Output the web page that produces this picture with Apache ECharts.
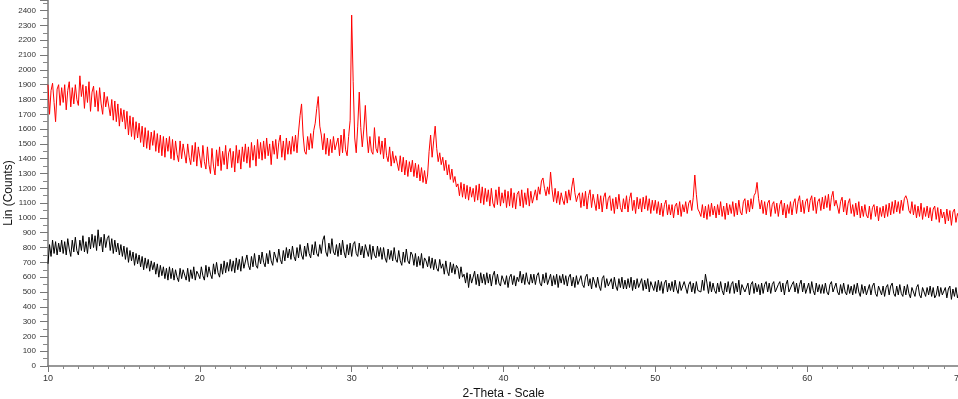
<!DOCTYPE html>
<html>
<head>
<meta charset="utf-8">
<script src="https://cdn.jsdelivr.net/npm/echarts@6/dist/echarts.min.js"></script>
<style>
  html, body { margin: 0; padding: 0; background: #fff; }
  #chart { width: 958px; height: 399px; }
</style>
</head>
<body>
<div id="chart"></div>
<script>
// 2-theta sampling: 10.0 .. 70.0 every 0.1 deg
const thetaStart = 10;
const thetaStep = 0.1;
const xTicks = [10, 20, 30, 40, 50, 60, 70];

// upper pattern (red), one row per degree
const redCounts = [
  1900,1700,1860,1910,1780,1650,1870,1900,1760,1880, // 10
  1780,1900,1730,1860,1920,1750,1880,1770,1900,1800, // 11
  1760,1960,1820,1900,1740,1890,1780,1920,1720,1850, // 12
  1890,1750,1860,1720,1880,1770,1700,1850,1750,1820, // 13
  1830,1690,1800,1660,1790,1650,1770,1620,1740,1650, // 14
  1730,1600,1720,1560,1690,1550,1680,1530,1650,1540, // 15
  1640,1510,1620,1480,1610,1470,1590,1460,1580,1490, // 16
  1590,1450,1570,1440,1560,1420,1550,1410,1540,1450, // 17
  1550,1400,1530,1390,1520,1430,1380,1520,1400,1500, // 18
  1510,1370,1500,1410,1360,1490,1380,1510,1350,1480, // 19
  1470,1340,1490,1380,1330,1480,1360,1300,1470,1350, // 20
  1290,1460,1350,1480,1320,1450,1360,1490,1330,1440, // 21
  1470,1340,1450,1310,1490,1370,1460,1330,1480,1380, // 22
  1500,1370,1480,1340,1510,1390,1490,1350,1530,1400, // 23
  1510,1390,1520,1400,1540,1420,1500,1360,1520,1430, // 24
  1530,1400,1510,1560,1410,1520,1390,1540,1430,1520, // 25
  1430,1550,1450,1560,1440,1580,1690,1770,1560,1450, // 26
  1430,1550,1460,1570,1470,1590,1640,1740,1820,1620, // 27
  1560,1460,1570,1430,1540,1420,1530,1440,1550,1460, // 28
  1450,1540,1420,1560,1440,1600,1460,1420,1550,1660, // 29
  2370,1920,1540,1440,1620,1850,1610,1480,1600,1760, // 30
  1560,1440,1550,1450,1430,1610,1470,1440,1550,1430, // 31
  1520,1400,1540,1420,1380,1480,1350,1450,1370,1420, // 32
  1430,1320,1420,1310,1410,1290,1390,1280,1380,1310, // 33
  1390,1280,1370,1270,1360,1250,1340,1240,1320,1230, // 34
  1290,1450,1560,1410,1520,1620,1470,1380,1440,1360, // 35
  1410,1320,1390,1290,1360,1260,1330,1240,1280,1210, // 36
  1230,1150,1240,1140,1230,1130,1220,1120,1210,1140, // 37
  1200,1110,1220,1120,1230,1100,1210,1090,1200,1110, // 38
  1190,1080,1200,1100,1070,1190,1090,1210,1080,1170, // 39
  1100,1190,1070,1180,1080,1200,1070,1170,1060,1160, // 40
  1180,1080,1190,1070,1170,1090,1200,1080,1180,1100, // 41
  1100,1190,1120,1210,1160,1250,1270,1200,1150,1210, // 42
  1160,1310,1190,1110,1200,1100,1180,1090,1170,1120, // 43
  1090,1180,1100,1190,1120,1210,1270,1170,1110,1150, // 44
  1170,1070,1170,1080,1180,1060,1150,1190,1070,1160, // 45
  1150,1050,1160,1060,1150,1040,1140,1170,1060,1130, // 46
  1150,1050,1130,1030,1140,1060,1160,1070,1040,1130, // 47
  1060,1150,1040,1130,1170,1050,1120,1030,1140,1060, // 48
  1130,1040,1140,1060,1150,1050,1130,1030,1120,1050, // 49
  1120,1030,1110,1020,1100,1010,1090,1120,1020,1090, // 50
  1020,1090,1000,1080,1100,1020,1110,1010,1090,1040, // 51
  1110,1030,1100,1120,1050,1140,1290,1160,1060,1040, // 52
  1010,1090,1000,1080,990,1090,1010,1100,1020,1080,  // 53
  1000,1090,1020,1110,1010,1080,990,1100,1020,1090,  // 54
  1030,1110,1010,1100,1020,1120,1040,1020,1110,1130, // 55
  1030,1120,1040,1130,1060,1150,1170,1240,1130,1060, // 56
  1120,1030,1110,1020,1100,1120,1010,1090,1110,1030, // 57
  1100,1010,1090,1120,1020,1100,1000,1090,1030,1110, // 58
  1020,1100,1130,1030,1110,1150,1040,1120,1030,1110, // 59
  1130,1040,1120,1150,1050,1140,1030,1110,1130,1050, // 60
  1140,1060,1150,1070,1160,1050,1140,1180,1080,1120, // 61
  1120,1030,1110,1140,1040,1120,1020,1100,1130,1030, // 62
  1090,1010,1100,1020,1110,1000,1080,1010,1090,1020, // 63
  1000,1080,990,1070,1090,1010,1080,980,1070,1010,   // 64
  1080,1000,1090,1010,1100,1020,1110,1030,1120,1040, // 65
  1110,1030,1120,1050,1130,1150,1120,1050,1030,1110, // 66
  1020,1090,1000,1080,1010,1100,990,1070,1010,1080,  // 67
  1000,1070,980,1060,1080,990,1070,970,1060,1000,    // 68
  1040,960,1060,980,1050,950,1040,1060,970,1030,     // 69
  1000                                               // 70
];

// lower pattern (black)
const blackCounts = [
  690,820,740,850,760,840,750,830,770,850, // 10
  760,840,750,860,790,740,850,770,870,780, // 11
  750,850,780,880,770,840,760,870,790,890, // 12
  800,880,780,920,810,870,770,890,800,860, // 13
  880,780,860,760,850,770,830,750,820,740, // 14
  810,720,800,700,780,710,770,680,760,690, // 15
  750,670,740,650,730,660,720,640,710,650, // 16
  700,620,690,600,680,610,670,590,660,580, // 17
  670,590,660,580,650,600,570,660,590,650, // 18
  640,580,660,570,650,590,670,580,640,620, // 19
  590,670,610,580,680,600,670,620,590,690, // 20
  620,700,630,600,690,620,710,630,700,640, // 21
  720,640,710,630,730,650,720,640,740,660, // 22
  670,750,680,650,740,670,760,680,660,750, // 23
  690,770,700,670,760,690,780,710,680,770, // 24
  780,700,790,720,690,780,710,800,730,790, // 25
  720,810,740,710,800,730,820,750,720,810, // 26
  740,830,760,730,820,750,840,760,740,820, // 27
  760,850,880,770,740,830,760,860,770,750, // 28
  820,740,830,750,850,770,730,820,750,830, // 29
  740,820,840,760,740,830,750,810,730,820, // 30
  810,740,820,720,810,750,730,810,740,800, // 31
  720,800,730,700,790,720,780,710,800,720, // 32
  700,780,710,680,770,700,790,710,690,770, // 33
  750,680,760,670,740,680,760,660,730,710, // 34
  670,740,660,730,650,720,660,640,720,660, // 35
  690,620,710,640,610,700,630,690,620,680, // 36
  660,590,670,600,620,560,630,530,620,560, // 37
  570,640,550,620,540,630,560,620,550,630, // 38
  560,620,540,610,640,550,620,560,540,610, // 39
  620,550,610,530,600,620,550,610,540,600, // 40
  570,640,560,620,550,630,570,550,620,560, // 41
  620,550,610,630,560,540,620,560,630,550, // 42
  560,620,540,610,550,620,530,610,560,620, // 43
  550,610,540,600,620,540,600,530,610,550, // 44
  540,610,550,530,600,620,540,590,520,600, // 45
  590,530,600,540,510,590,610,530,590,540, // 46
  530,590,520,600,540,510,590,530,600,520, // 47
  580,520,590,530,600,510,580,520,590,530, // 48
  520,590,510,580,520,590,500,570,580,510, // 49
  570,500,580,510,570,490,560,580,500,560, // 50
  510,570,500,580,520,490,570,510,500,570, // 51
  560,490,550,570,500,560,490,570,510,500, // 52
  500,580,510,620,560,490,570,500,560,510, // 53
  490,560,500,570,510,480,560,500,570,490, // 54
  550,570,490,560,500,580,480,550,560,500, // 55
  500,560,480,550,570,490,560,500,550,480, // 56
  560,490,550,570,500,560,490,550,570,500, // 57
  490,550,570,500,560,480,550,580,500,490, // 58
  550,570,500,560,490,550,580,500,560,490, // 59
  500,560,490,570,510,480,560,500,550,490, // 60
  550,490,560,500,480,550,570,500,490,560, // 61
  500,480,550,490,560,500,480,550,490,540, // 62
  480,550,490,560,500,470,550,490,540,480, // 63
  490,550,480,540,560,490,470,540,550,480, // 64
  540,470,530,550,480,540,560,490,470,540, // 65
  480,550,490,470,540,480,550,490,460,530, // 66
  540,470,530,550,480,460,530,540,470,530, // 67
  480,540,470,530,460,480,540,470,530,480, // 68
  470,530,460,520,540,450,520,470,530,460, // 69
  500                                      // 70
];

const toPairs = (arr) => arr.map((v, i) => [+(thetaStart + i * thetaStep).toFixed(1), v]);

const chart = echarts.init(document.getElementById('chart'));
chart.setOption({
  animation: false,
  backgroundColor: '#fff',
  textStyle: { fontFamily: 'Liberation Sans, Arial, sans-serif' },
  grid: { left: 48, top: 0, width: 911, height: 366, containLabel: false, outerBoundsMode: 'none' },
  xAxis: {
    type: 'value',
    min: xTicks[0],
    max: xTicks[xTicks.length - 1],
    interval: 10,
    name: '2-Theta - Scale',
    nameLocation: 'middle',
    nameGap: 22,
    nameMoveOverlap: false,
    nameTextStyle: { fontSize: 12, color: '#111' },
    axisLine: { show: true, lineStyle: { color: '#777', width: 1.5 } },
    axisTick: { show: true, length: 6, lineStyle: { color: '#777' } },
    minorTick: { show: true, splitNumber: 10, length: 3, lineStyle: { color: '#888' } },
    axisLabel: { fontSize: 9, color: '#333', margin: 8 },
    splitLine: { show: false }
  },
  yAxis: {
    type: 'value',
    min: 0,
    max: 2472,
    interval: 100,
    name: 'Lin (Counts)',
    nameLocation: 'middle',
    nameGap: 33,
    nameMoveOverlap: false,
    nameTextStyle: { fontSize: 12, color: '#111', padding: [0, 20, 0, 0] },
    axisLine: { show: true, lineStyle: { color: '#777', width: 1.5 } },
    axisTick: { show: true, length: 8, lineStyle: { color: '#777' } },
    minorTick: { show: true, splitNumber: 2, length: 5, lineStyle: { color: '#888' } },
    axisLabel: {
      fontSize: 8,
      color: '#333',
      margin: 12,
      formatter: (v) => (v % 100 === 0 ? String(v) : '')
    },
    splitLine: { show: false }
  },
  series: [
    {
      type: 'line',
      data: toPairs(blackCounts),
      showSymbol: false,
      lineStyle: { color: '#000', width: 1 },
      silent: true
    },
    {
      type: 'line',
      data: toPairs(redCounts),
      showSymbol: false,
      lineStyle: { color: '#ff0000', width: 1 },
      silent: true
    }
  ]
});
</script>
</body>
</html>
